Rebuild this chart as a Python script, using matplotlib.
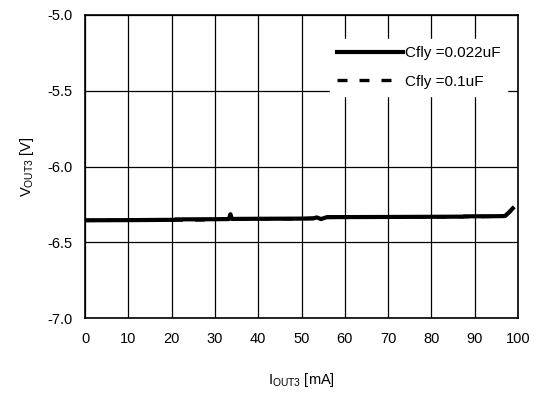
import matplotlib
matplotlib.use("Agg")
import matplotlib.pyplot as plt

plt.rcParams["font.family"] = ["Liberation Sans", "DejaVu Sans"]
plt.rcParams["mathtext.fontset"] = "custom"
plt.rcParams["mathtext.rm"] = "Liberation Sans"
plt.rcParams["mathtext.it"] = "Liberation Sans"

# Data
iout_022 = [0, 10, 20.5, 21, 30, 33.2, 33.6, 33.9, 40, 50, 52.7, 53.5, 54.5, 55.9, 60, 70, 80, 87.3, 87.5, 95, 97, 98, 98.8]
vout_022 = [-6.355, -6.354, -6.352, -6.349, -6.348, -6.347, -6.315, -6.346, -6.345, -6.344, -6.343, -6.336, -6.347, -6.334, -6.334, -6.333, -6.332, -6.331, -6.329, -6.328, -6.327, -6.300, -6.276]

iout_01 = [0, 10, 20, 27, 30, 40, 50, 55, 60, 70, 80, 90, 97, 98.8]
vout_01 = [-6.356, -6.355, -6.354, -6.353, -6.349, -6.346, -6.345, -6.337, -6.335, -6.334, -6.333, -6.331, -6.329, -6.280]

xticks = [0, 10, 20, 30, 40, 50, 60, 70, 80, 90, 100]
yticks = [-7.0, -6.5, -6.0, -5.5, -5.0]

fig = plt.figure(figsize=(5.39, 3.94), dpi=100)
ax = fig.add_axes([85 / 539, 76 / 394, 433 / 539, 303 / 394])

ax.plot(iout_01, vout_01, color="black", lw=2.4, ls=(0, (3, 3.6)), label="Cfly =0.1uF", zorder=3)
ax.plot(iout_022, vout_022, color="black", lw=3.0, label="Cfly =0.022uF", zorder=4)

ax.set_xlim(0, 100)
ax.set_ylim(-7.0, -5.0)
ax.set_xticks(xticks)
ax.set_yticks(yticks)
ax.set_yticklabels([f"{v:.1f}" for v in yticks])
ax.tick_params(length=0, labelsize=10.5, colors="black")
ax.tick_params(axis="x", pad=10)
ax.tick_params(axis="y", pad=9)
ax.grid(True, color="black", lw=0.9)
for sp in ax.spines.values():
    sp.set_linewidth(1.2)
    sp.set_color("black")

ax.set_xlabel(r"I$_{\mathrm{OUT3}}$ [mA]", fontsize=10.5, labelpad=18)
ax.set_ylabel(r"V$_{\mathrm{OUT3}}$ [V]", fontsize=10.5, labelpad=8)

handles, labels = ax.get_legend_handles_labels()
leg = ax.legend(handles[::-1], labels[::-1], loc="upper right", bbox_to_anchor=(0.975, 0.92),
                fontsize=11, frameon=True, fancybox=False, framealpha=1, edgecolor="white",
                handlelength=4.3, handletextpad=0.15, borderaxespad=0, borderpad=0.45,
                labelspacing=0.95)

fig.savefig("out.png", dpi=100)
